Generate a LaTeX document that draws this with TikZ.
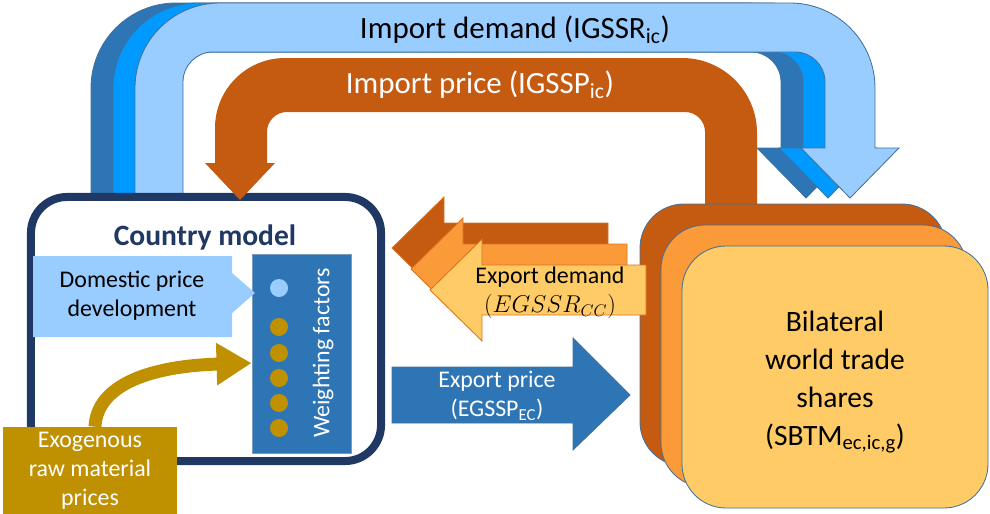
\documentclass[tikz,border=0pt]{standalone}
\usepackage{fontspec}
\setmainfont{Carlito}
\usetikzlibrary{arrows.meta}

\definecolor{bluelight}{HTML}{99CCFF}
\definecolor{bluebright}{HTML}{0099FF}
\definecolor{bluedark}{HTML}{2E75B6}
\definecolor{blueline}{HTML}{41719C}
\definecolor{navy}{HTML}{203864}
\definecolor{rust}{HTML}{C55A11}
\definecolor{orangemid}{HTML}{FB9A38}
\definecolor{orangelight}{HTML}{FFCB66}
\definecolor{orangeline}{HTML}{D9731F}
\definecolor{gold}{HTML}{BF9000}

\begin{document}
\begin{tikzpicture}[x=0.025cm, y=-0.025cm,
  every node/.style={font=\fontsize{17}{20.5}\selectfont, align=center, inner sep=0pt},
  bigtext/.style={font=\fontsize{22}{26}\selectfont},
  bandline/.style={draw=blueline, line width=0.6pt},
  countrybox/.style={draw=navy, line width=5.7pt, fill=white, rounded corners=0.9cm,
    minimum width=8.75cm, minimum height=6.6cm},
  wfbox/.style={draw=blueline!70, line width=0.6pt, fill=bluedark,
    minimum width=2.475cm, minimum height=4.975cm},
  golddot/.style={circle, fill=gold, minimum size=0.45cm},
  exobox/.style={fill=gold, text=white, minimum width=4.35cm, minimum height=2.2cm},
  sharebox/.style={draw=blueline, line width=0.6pt, rounded corners=1.1cm},
  goldarrow/.style={draw=gold, line width=9.2pt, -{Triangle[length=8.75mm,width=10mm]}}]

\useasboundingbox (0,0) rectangle (990,513);
\clip (0,0) rectangle (990,513);

\foreach \dx/\col in {-44/bluedark, -22/bluebright, 0/bluelight}
  \filldraw[bandline, fill=\col, shift={(\dx,0)}] (135,197) -- (135,88) arc (180:270:85)
    -- (790,3) arc (270:360:85) -- (875,148) -- (899,148) -- (850,198) -- (801,148)
    -- (825,148) -- (825,82) arc (0:-90:30) -- (213,52) arc (270:180:30) -- (183,197) -- cycle;
\node[bigtext] (impdem) at (515,30) {Import demand (IGSSR\textsubscript{ic})};

\node[countrybox] (country) at (206,329) {};
\node[font=\fontsize{21}{25}\selectfont\bfseries, text=navy] (ctitle) at (205,237) {Country model};

\fill[rust] (705,210) -- (705,132) arc (0:-90:20) -- (287,112) arc (270:180:20)
  -- (267,163) -- (275,163) -- (240,200) -- (205,163) -- (215,163)
  -- (215,128) arc (180:270:70) -- (682,58) arc (270:360:75) -- (757,210) -- cycle;
\node[bigtext, text=white] (imppri) at (480,85) {Import price (IGSSP\textsubscript{ic})};

\node[wfbox] (wf) at (301.5,353.5) {};
\node[rotate=90, text=white] (wftext) at (323,353) {Weighting factors};
\node[golddot, fill=bluelight] (domdot) at (279,288) {};
\foreach \y in {327,353,378,403,428}
  \node[golddot] (dot\y) at (279,\y) {};

\fill[bluelight] (33,256) -- (232,256) -- (232,273) -- (255,293) -- (232,313) -- (232,337)
  -- (33,337) -- cycle;
\node (dpd) at (132,296) {Domestic price\\development};

\foreach \d/\col in {0/rust, 21/orangemid, 42/orangelight}
  \filldraw[sharebox, fill=\col, shift={(\d,\d)}] (640,204) rectangle (946,466);
\node[font=\fontsize{21}{27}\selectfont] (shares) at (835,382)
  {Bilateral\\world trade\\shares\\(SBTM\textsubscript{ec,ic,g})};

\foreach \dx/\dy/\col in {-38/-42/rust, -19/-21/orangemid, 0/0/orangelight}
  \filldraw[draw=orangeline, line width=0.6pt, fill=\col, shift={(\dx,\dy)}] (646,265) -- (482,265)
    -- (482,239) -- (430,290) -- (482,341) -- (482,315) -- (646,315) -- cycle;
\node (expdem) at (550,293) {Export demand\\$(EGSSR_{CC})$};

\filldraw[draw=blueline, line width=0.6pt, fill=bluedark] (392,367) -- (573,367) -- (573,338)
  -- (630,395) -- (573,450) -- (573,423) -- (392,423) -- cycle;
\node[text=white] (exppri) at (497,396) {Export price\\(EGSSP\textsubscript{EC})};

\node[exobox] (exo) at (90,471) {Exogenous\\raw material\\prices};
\draw[goldarrow] ([xshift=0.125cm]exo.north) .. controls (97,385) and (150,366) .. ([yshift=-0.24cm]wf.west);
\end{tikzpicture}
\end{document}
